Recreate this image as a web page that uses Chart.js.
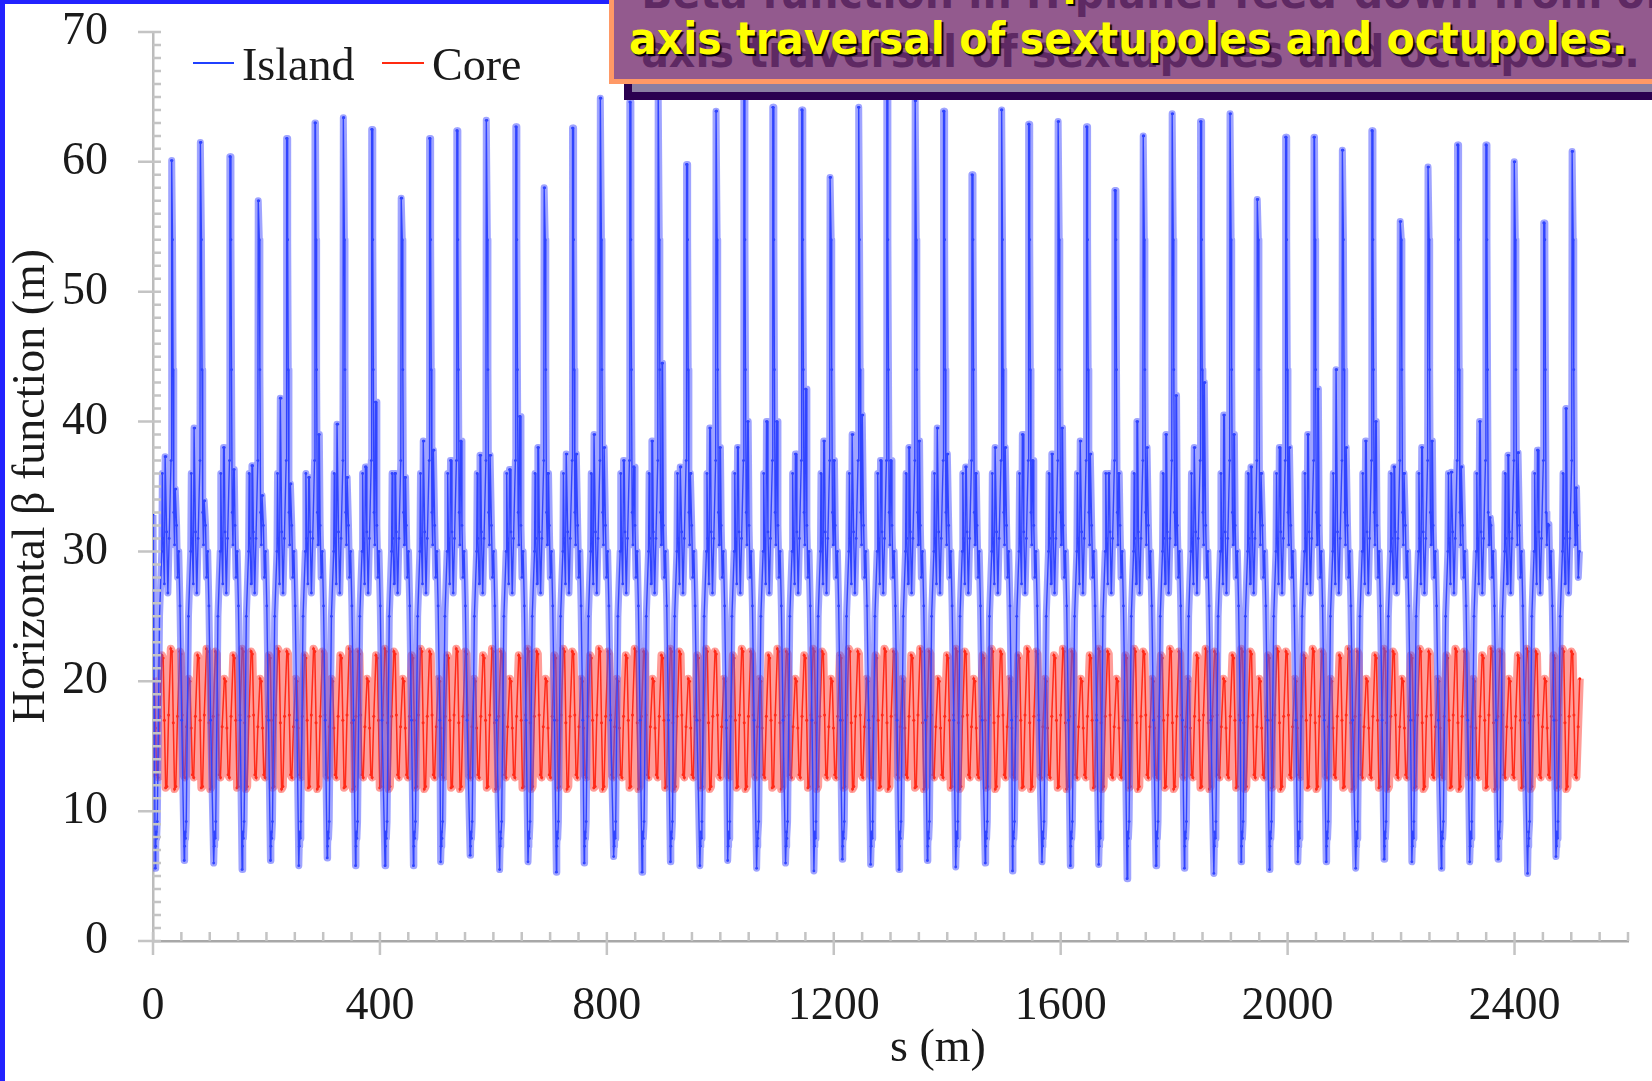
<!DOCTYPE html>
<html>
<head>
<meta charset="utf-8">
<title>Horizontal beta function</title>
<script src="https://cdn.jsdelivr.net/npm/chart.js@4.4.1/dist/chart.umd.min.js"></script>
<style>
  html, body { margin: 0; padding: 0; background: #fff; }
  body { width: 1652px; height: 1081px; position: relative; overflow: hidden; }
  #chartWrap { position: absolute; left: 0; top: 0; width: 1652px; height: 1081px; }
  .edge-top { position: absolute; left: 0; top: 0; width: 1652px; height: 4px; background: #2222ff; }
  .edge-left { position: absolute; left: 0; top: 0; width: 5px; height: 1081px; background: #2222ff; }
  .note-shadow {
    position: absolute; left: 624px; top: -40px; width: 1060px; height: 140px;
    box-sizing: border-box; background: #8b7fa3;
    border-left: 8px solid #2b0050; border-bottom: 8px solid #2b0050;
  }
  .note-box {
    position: absolute; left: 609px; top: -40px; width: 1060px; height: 124px;
    box-sizing: border-box; background: #935a8e; border: 5px solid #ff9966; overflow: hidden;
  }
  .note-line {
    position: absolute; left: 15px; display: inline-block; white-space: nowrap;
    font-family: "DejaVu Sans", sans-serif; font-weight: bold; font-size: 44px; line-height: 48px;
    color: #ffff00; transform-origin: 0 0;
    text-shadow: 2px 2px 1px #000, 13px 13px 0 rgba(70, 20, 80, 0.7);
  }
  #noteLine1 { top: -9px; }
  #noteLine2 { top: 50px; }
</style>
</head>
<body>
<div id="chartWrap"><canvas id="betaChart" width="1652" height="1081"></canvas></div>
<div class="edge-top"></div>
<div class="edge-left"></div>
<div class="note-shadow"></div>
<div class="note-box">
  <div class="note-line" id="noteLine1">Beta function in H plane: feed-down from off-</div>
  <div class="note-line" id="noteLine2">axis traversal of sextupoles and octupoles.</div>
</div>
<script>
// ---- data ----
const sEnd = 2515; // last s (m) of both curves

// Island orbit: one tall peak per cell
const islandPeakS = [33, 84, 136, 186, 236, 286, 336, 386, 438, 488, 536, 588, 640, 690, 740, 789, 841, 891, 941, 993,
  1042, 1093, 1144, 1194, 1244, 1294, 1344, 1394, 1444, 1496, 1544, 1596, 1646, 1696, 1746, 1797, 1847, 1899, 1947, 1997,
  2047, 2097, 2149, 2199, 2248, 2300, 2350, 2400, 2452, 2502];
const islandPeak = [60.1, 61.5, 60.4, 57.0, 61.8, 63.0, 63.4, 62.5, 57.2, 61.8, 62.4, 63.2, 62.7, 58.0, 62.6, 64.9, 64.6, 65.5, 59.8, 63.9,
  64.9, 64.2, 64.0, 58.8, 64.2, 64.9, 64.7, 63.9, 59.0, 64.0, 62.9, 63.1, 62.7, 57.8, 62.0, 63.7, 63.1, 63.7, 57.1, 61.9,
  61.9, 60.9, 62.4, 55.4, 59.6, 61.3, 61.3, 60.0, 55.3, 60.8];
// smaller bumps either side of each tall peak
const islandLeft = [37.3, 39.5, 38.0, 36.6, 41.8, 35.7, 39.8, 36.5, 36.0, 38.5, 37.0, 37.4, 36.3, 38.0, 37.5, 39.0, 37.0, 38.5, 36.5, 39.5,
  38.0, 40.0, 37.5, 38.5, 39.0, 37.0, 38.0, 39.5, 36.5, 38.0, 39.0, 37.5, 38.5, 36.0, 40.0, 39.0, 38.0, 40.5, 36.5, 38.0,
  39.0, 44.0, 38.5, 36.5, 38.0, 36.1, 40.0, 37.4, 37.8, 41.0];
const islandRight = [34.8, 33.9, 36.3, 34.3, 35.2, 39.0, 35.7, 41.5, 35.7, 37.8, 38.5, 37.4, 40.4, 36.0, 37.5, 38.0, 36.5, 44.5, 36.0, 38.0,
  40.0, 40.0, 42.5, 37.0, 40.5, 37.0, 38.5, 37.5, 36.0, 38.0, 37.0, 39.5, 37.5, 36.0, 38.0, 42.0, 43.0, 39.0, 36.0, 38.0,
  42.5, 38.0, 40.0, 36.0, 38.5, 36.5, 32.6, 37.6, 32.1, 34.9];
// minimum at the start of each cell
const islandMin = [5.6, 6.2, 6.0, 5.5, 6.2, 5.8, 6.4, 5.8, 5.8, 5.8, 6.1, 6.6, 5.5, 6.1, 5.3, 6.0, 6.5, 5.3, 6.1, 5.8,
  6.2, 5.6, 6.0, 5.4, 6.3, 5.9, 5.5, 6.2, 5.7, 6.0, 5.4, 6.1, 5.8, 5.9, 4.8, 5.8, 5.6, 5.2, 6.1, 5.5,
  6.1, 6.1, 5.6, 6.3, 6.1, 5.6, 6.1, 6.3, 5.2, 6.5];
// shape of one island cell: offset from the tall peak (m) and beta (m)
const islandShapeDs = [-29, -28.2, -27.4, -26.6, -25.4, -21.5, -17.5, -16.5, -15.2, -13, -11.6, -10.4, -9, -6.8, -4.5,
  -1.2, -0.5, 0.4, 1.4, 2.4, 3.6, 5, 6.2, 7.2, 8.6, 10.4, 12.4, 14.6, 17.6];
const islandShapeVal = ['min', 7.3, 8.4, 7.9, 9.2, 25, 30, 36, 31, 27.5, 'L', 'L', 31.5, 26.8, 31,
  37, 'P', 'P', 54, 44, 33, 30.5, 'R', 'R', 32, 28, 30, 25.8, 17];

// Core orbit: one cell of the core lattice
const coreCellLength = 62.9;
const coreCells = 40;
const coreShapeDs = [0, 2.2, 4.4, 6.6, 8.8, 11.8, 15.7, 17.9, 20.1, 22.3, 24.5, 27.5, 31.4, 33.6, 35.8, 38.0, 40.2,
  43.2, 47.2, 49.4, 51.6, 53.8, 56.0, 59.0];
const coreShapeVal = [20.2, 20.0, 16.4, 12.8, 12.6, 17.3, 22.0, 21.8, 17.0, 11.8, 11.9, 17.4, 22.5, 22.3, 16.8, 11.7, 11.9,
  17.3, 22.3, 22.1, 17.4, 12.8, 12.6, 16.5];

const xTickStep = 400;
const yTickStep = 10;

// ---- build point lists ----
const islandPts = [{ x: 0, y: 32.8 }];
islandPeakS.forEach((p, i) => {
  islandShapeDs.forEach((d, j) => {
    const key = islandShapeVal[j];
    let v = key;
    if (key === 'min') v = islandMin[i];
    else if (key === 'L') v = islandLeft[i];
    else if (key === 'P') v = islandPeak[i];
    else if (key === 'R') v = islandRight[i];
    if (p + d <= sEnd) islandPts.push({ x: p + d, y: v });
  });
});

const corePts = [];
for (let c = 0; c < coreCells; c++) {
  coreShapeDs.forEach((d, j) => {
    corePts.push({ x: c * coreCellLength + d, y: coreShapeVal[j] });
  });
}
corePts.push({ x: sEnd, y: 20.2 });

// ---- decorations: ticks, titles, legend ----
const serif = '"Liberation Serif", "Times New Roman", serif';

const axisDecor = {
  id: 'axisDecor',
  afterDraw(chart) {
    const { ctx, chartArea: a, scales: { x, y } } = chart;
    ctx.save();
    ctx.strokeStyle = '#c4c4c4';
    ctx.lineWidth = 2.5;
    ctx.beginPath();
    for (let v = 0; v <= 70; v += 1) {
      const py = y.getPixelForValue(v);
      if (v % 10 === 0) { ctx.moveTo(a.left - 15, py); ctx.lineTo(a.left + 8, py); }
      else { ctx.moveTo(a.left, py); ctx.lineTo(a.left + 8, py); }
    }
    for (let v = 0; v <= 2600; v += 50) {
      const px = x.getPixelForValue(v);
      if (v % 400 === 0) { ctx.moveTo(px, a.bottom + 14); ctx.lineTo(px, a.bottom - 9); }
      else { ctx.moveTo(px, a.bottom); ctx.lineTo(px, a.bottom - 9); }
    }
    ctx.stroke();

    ctx.fillStyle = '#1a1a1a';
    ctx.font = '46px ' + serif;
    ctx.textAlign = 'center';
    ctx.textBaseline = 'middle';
    ctx.fillText('s (m)', 938, 1049);

    ctx.save();
    ctx.translate(32, 486);
    ctx.rotate(-Math.PI / 2);
    ctx.fillText('Horizontal \u03B2 function (m)', 0, 0);
    ctx.restore();

    // legend
    ctx.lineWidth = 2;
    ctx.strokeStyle = '#2040ff';
    ctx.beginPath(); ctx.moveTo(193, 63); ctx.lineTo(234, 63); ctx.stroke();
    ctx.strokeStyle = '#ff2a10';
    ctx.beginPath(); ctx.moveTo(382, 63); ctx.lineTo(424, 63); ctx.stroke();
    ctx.textAlign = 'left';
    ctx.textBaseline = 'alphabetic';
    ctx.fillText('Island', 242, 80);
    ctx.fillText('Core', 432, 80);
    ctx.restore();
  }
};

const ctx = document.getElementById('betaChart').getContext('2d');
new Chart(ctx, {
  type: 'line',
  data: {
    datasets: [
      { label: 'Island', data: islandPts, borderColor: 'rgba(80, 90, 255, 0.55)', borderWidth: 7,
        borderJoinStyle: 'round', pointRadius: 0, tension: 0 },
      { label: 'Island', data: islandPts, borderColor: '#0a2cff', borderWidth: 1.4,
        pointRadius: 1.4, pointBorderWidth: 0, pointBackgroundColor: '#0a2cff', tension: 0 },
      { label: 'Core', data: corePts, borderColor: 'rgba(255, 60, 50, 0.5)', borderWidth: 8,
        borderJoinStyle: 'round', pointRadius: 0, tension: 0 },
      { label: 'Core', data: corePts, borderColor: '#ff1a00', borderWidth: 1.5,
        pointRadius: 1.5, pointBorderWidth: 0, pointBackgroundColor: '#ff1a00', tension: 0 }
    ]
  },
  options: {
    responsive: false,
    animation: false,
    devicePixelRatio: 1,
    layout: { padding: { top: 32, right: 24, left: 0, bottom: 0 } },
    scales: {
      x: {
        type: 'linear', min: 0, max: 2600,
        grid: { display: false, drawTicks: false },
        border: { display: true, color: '#a8a8a8', width: 2.5 },
        ticks: { stepSize: xTickStep, includeBounds: false, autoSkip: false, maxRotation: 0,
          padding: 38, color: '#1a1a1a', font: { family: serif, size: 46 },
          callback: (v) => String(v) },
        afterFit: (scale) => { scale.height = 140; scale.paddingLeft = 0; scale.paddingRight = 0; }
      },
      y: {
        type: 'linear', min: 0, max: 70,
        grid: { display: false, drawTicks: false },
        border: { display: true, color: '#bcbcbc', width: 2.5 },
        ticks: { stepSize: yTickStep, includeBounds: false, padding: 45, color: '#1a1a1a',
          font: { family: serif, size: 46 }, callback: (v) => String(v) },
        afterFit: (scale) => { scale.width = 153; scale.paddingTop = 0; scale.paddingBottom = 0; }
      }
    },
    plugins: { legend: { display: false }, tooltip: { enabled: false } }
  },
  plugins: [axisDecor]
});

// stretch the note text to the width it has in the slide
const line2 = document.getElementById('noteLine2');
const stretch = 999 / line2.getBoundingClientRect().width;
document.querySelectorAll('.note-line').forEach(el => {
  el.style.transform = 'scaleX(' + stretch.toFixed(3) + ')';
});
</script>
</body>
</html>
